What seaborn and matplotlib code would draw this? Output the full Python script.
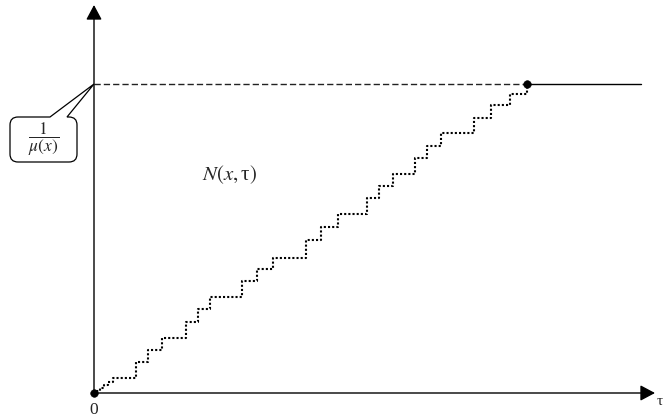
import numpy as np
import pandas as pd
import seaborn as sns
import matplotlib
matplotlib.use("Agg")
import matplotlib.pyplot as plt
from matplotlib.path import Path
from matplotlib.patches import PathPatch

# Staircase N(x, tau): left end of each horizontal run (tau) and level (N)
tau_steps = [0, 3, 6, 10, 14, 19, 42, 54, 68, 92, 104, 116, 148, 163, 179, 212,
             227, 244, 273, 285, 299, 321, 333, 347, 380, 397, 416, 433]
n_steps = [0, 2, 5, 8, 11, 15, 31, 43, 55, 71, 84, 96, 112, 124, 135, 153,
           166, 179, 195, 207, 219, 235, 247, 260, 275, 288, 299, 309]
level = 309          # 1/mu(x)
tau_end = 433        # where the staircase reaches 1/mu(x)
tau_line_end = 547   # end of the solid level line
x_axis_end = 561
y_axis_end = 388

sns.set_theme(style="white")
plt.rcParams["mathtext.fontset"] = "stix"
plt.rcParams["font.family"] = ["Liberation Serif", "DejaVu Serif"]

fig = plt.figure(figsize=(6.63, 4.19), dpi=100)
ax = fig.add_axes([0, 0, 1, 1])
ax.set_xlim(-94, 569)
ax.set_ylim(-26, 393)
ax.axis("off")

# axes with arrows
arrow_style = "-|>,head_length=0.45,head_width=0.24"
ax.annotate("", xy=(0, y_axis_end), xytext=(0, 0),
            arrowprops=dict(arrowstyle=arrow_style, color="black", lw=1.0,
                            mutation_scale=20, shrinkA=0, shrinkB=0))
ax.annotate("", xy=(x_axis_end, 0), xytext=(0, 0),
            arrowprops=dict(arrowstyle=arrow_style, color="black", lw=1.0,
                            mutation_scale=20, shrinkA=0, shrinkB=0))

# dashed level line and solid continuation
dash_df = pd.DataFrame({"t": [0, tau_end], "n": [level, level]})
sns.lineplot(data=dash_df, x="t", y="n", ax=ax, color="#222222", lw=1.0,
             linestyle=(0, (4.5, 2.2)), estimator=None)
solid_df = pd.DataFrame({"t": [tau_end, tau_line_end], "n": [level, level]})
sns.lineplot(data=solid_df, x="t", y="n", ax=ax, color="black", lw=1.0,
             estimator=None)

# staircase
stair_df = pd.DataFrame({"t": tau_steps, "n": n_steps})
sns.lineplot(data=stair_df, x="t", y="n", ax=ax, color="black", lw=1.5,
             linestyle=(0, (1, 1)), drawstyle="steps-post", estimator=None,
             dash_capstyle="butt")

# dots
dots_df = pd.DataFrame({"t": [0, tau_end], "n": [0, level]})
sns.scatterplot(data=dots_df, x="t", y="n", ax=ax, color="black", s=30,
                edgecolor="black", zorder=6)

# labels
ax.text(136, 218, r"$N(x,$τ$)$", fontsize=15, ha="center", va="center")
ax.text(0, -17, "0", fontsize=12.5, ha="center", va="center")
ax.text(563, -2, "τ", fontsize=11, ha="left", va="top")

# callout box
left, right, top, bottom, r = -84, -17, 276, 231, 8
tail_l, tail_r = -44, -27
verts = [
    (tail_l, top), (0, level), (tail_r, top),
    (right - r, top), (right, top), (right, top - r),
    (right, bottom + r), (right, bottom), (right - r, bottom),
    (left + r, bottom), (left, bottom), (left, bottom + r),
    (left, top - r), (left, top), (left + r, top),
    (tail_l, top),
]
codes = [Path.MOVETO, Path.LINETO, Path.LINETO,
         Path.LINETO, Path.CURVE3, Path.CURVE3,
         Path.LINETO, Path.CURVE3, Path.CURVE3,
         Path.LINETO, Path.CURVE3, Path.CURVE3,
         Path.LINETO, Path.CURVE3, Path.CURVE3,
         Path.CLOSEPOLY]
ax.add_patch(PathPatch(Path(verts, codes), facecolor="white",
                       edgecolor="black", lw=0.9, zorder=7))
ax.text((left + right) / 2, (top + bottom) / 2, r"$\dfrac{1}{\mu(x)}$",
        fontsize=12.5, ha="center", va="center", zorder=8)

fig.savefig("out.png", dpi=100)
